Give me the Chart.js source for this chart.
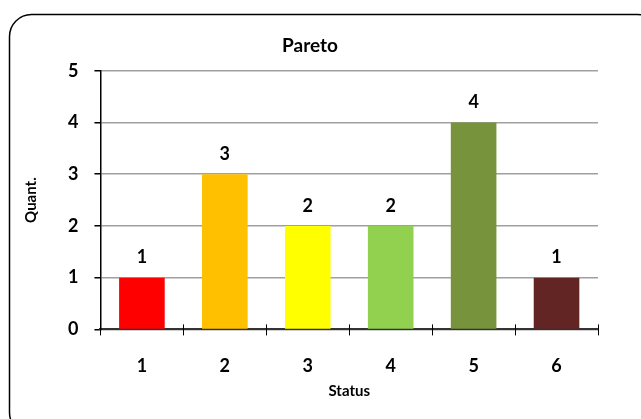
<!DOCTYPE html>
<html><head><meta charset="utf-8">
<script src="https://cdn.jsdelivr.net/npm/chart.js@4/dist/chart.umd.min.js"></script>
<style>html,body{margin:0;padding:0;background:#fff;}canvas{display:block;}</style>
</head><body>
<canvas id="c" width="641" height="419"></canvas>
<script>
const categories = ['1','2','3','4','5','6'];
const values = [1,3,2,2,4,1];
const barColors = ['#FF0000','#FFC000','#FFFF00','#92D050','#77933C','#632523'];
const chartTitle = 'Pareto';
const xTitle = 'Status';
const yTitle = 'Quant.';
const yMin = 0, yMax = 5, yStep = 1;
const FONT = 'Lato, "Open Sans", sans-serif';

const decor = {
  id: 'decor',
  beforeDraw(chart) {
    const ctx = chart.ctx;
    ctx.save();
    ctx.fillStyle = '#fff';
    ctx.fillRect(0,0,chart.width,chart.height);
    ctx.beginPath();
    ctx.roundRect(9.5, 14.5, 650, 420, 22);
    ctx.lineWidth = 1.5;
    ctx.strokeStyle = '#000';
    ctx.stroke();
    ctx.restore();
  },
  afterDatasetsDraw(chart) {
    const ctx = chart.ctx;
    const meta = chart.getDatasetMeta(0);
    ctx.save();
    ctx.font = 'bold 18px ' + FONT;
    ctx.fillStyle = '#000';
    ctx.textAlign = 'center';
    ctx.textBaseline = 'bottom';
    meta.data.forEach((bar, i) => {
      ctx.fillText(String(values[i]), bar.x, bar.y - 11);
    });
    const xs = chart.scales.x;
    const yb = chart.scales.y.getPixelForValue(0);
    ctx.strokeStyle = '#000';
    ctx.lineWidth = 1;
    for (let i = 0; i <= categories.length; i++) {
      const px = Math.round(xs.getPixelForValue(i - 0.5)) + 0.5;
      ctx.beginPath();
      ctx.moveTo(px, yb - 5);
      ctx.lineTo(px, yb + 6);
      ctx.stroke();
    }
    ctx.restore();
  }
};

new Chart(document.getElementById('c'), {
  type: 'bar',
  data: {
    labels: categories,
    datasets: [{ data: values, backgroundColor: barColors, borderWidth: 0,
      categoryPercentage: 1, barPercentage: 0.55 }]
  },
  options: {
    responsive: false,
    devicePixelRatio: 1,
    animation: false,
    layout: { padding: { left: 22, right: 43, top: 0, bottom: 19 } },
    plugins: {
      legend: { display: false },
      tooltip: { enabled: false },
      title: { display: true, text: chartTitle, color: '#000',
        font: { family: FONT, size: 19, weight: 'bold' }, padding: { top: 34, bottom: 14 } }
    },
    scales: {
      x: {
        offset: true,
        grid: { display: false, drawTicks: false },
        border: { display: true, color: '#333', width: 2 },
        ticks: { color: '#000', font: { family: FONT, size: 18, weight: 'bold' }, padding: 26 },
        title: { display: true, text: xTitle, color: '#000',
          font: { family: FONT, size: 15, weight: 'bold' }, padding: { top: -21, bottom: 0 } }
      },
      y: {
        min: yMin, max: yMax,
        grid: { color: '#A0A0A0', lineWidth: 1.5, tickLength: 6, tickColor: '#000', drawTicks: true },
        border: { display: true, color: '#000', width: 1.5 },
        ticks: { stepSize: yStep, color: '#000', font: { family: FONT, size: 18, weight: 'bold' }, padding: 16 },
        title: { display: true, text: yTitle, color: '#000',
          font: { family: FONT, size: 15, weight: 'bold' }, padding: { top: 0, bottom: 12 } }
      }
    }
  },
  plugins: [decor]
});
</script>
</body></html>
